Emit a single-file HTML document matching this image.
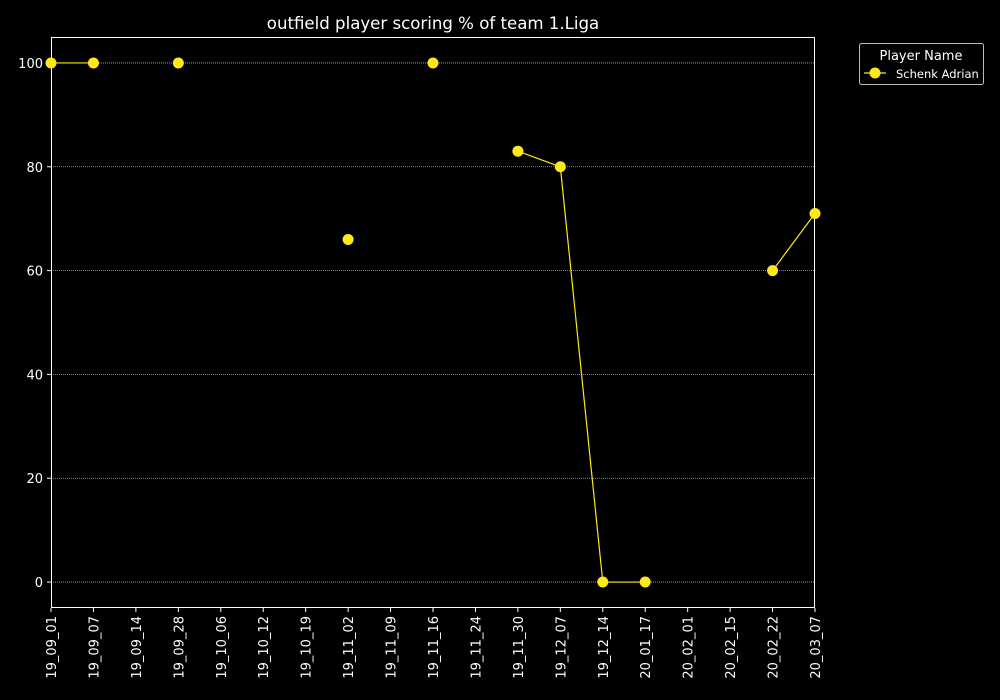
<!DOCTYPE html>
<html><head><meta charset="utf-8"><style>
html,body{margin:0;background:#000;width:1000px;height:700px;overflow:hidden;}
svg{display:block;}
svg text{font-family:"DejaVu Sans","Liberation Sans",sans-serif;fill:#fff;}
</style></head><body>
<svg id="chart" width="1000" height="700">
<rect width="1000" height="700" fill="#000"/>
<text x="433" y="29" font-size="16.6" text-anchor="middle">outfield player scoring % of team 1.Liga</text>
<g id="grid"></g><g id="axes"></g><g id="series"></g>
<g>
<rect x="859.5" y="43.5" width="124" height="41" rx="2" fill="#000" stroke="#bbb"/>
<text x="921" y="60" font-size="13" text-anchor="middle">Player Name</text>
<line x1="864" y1="73" x2="886" y2="73" stroke="#ffe81a" stroke-width="1.2"/>
<circle cx="875" cy="73" r="5.5" fill="#ffe81a"/>
<text x="896" y="78" font-size="11.5">Schenk Adrian</text>
</g>
</svg>
<script>
const categories=["19_09_01","19_09_07","19_09_14","19_09_28","19_10_06","19_10_12","19_10_19","19_11_02","19_11_09","19_11_16","19_11_24","19_11_30","19_12_07","19_12_14","20_01_17","20_02_01","20_02_15","20_02_22","20_03_07"];
const values=[100,100,null,100,null,null,null,66,null,100,null,83,80,0,0,null,null,60,71];
const yTicks=[0,20,40,60,80,100];
const L=51,R=815,T=37,B=608,yMin=-5,yMax=105;
const NS="http://www.w3.org/2000/svg";
const x=i=>L+i*(R-L)/(categories.length-1);
const y=v=>B-(v-yMin)/(yMax-yMin)*(B-T);
function mk(tag,attrs,parent,txt){const e=document.createElementNS(NS,tag);for(const k in attrs)e.setAttribute(k,attrs[k]);if(txt!==undefined)e.textContent=txt;document.getElementById(parent).appendChild(e);return e;}
yTicks.forEach(v=>{
 let g=mk('line',{x1:L,x2:R,y1:y(v),y2:y(v),stroke:'#aaa','stroke-width':0.8,'stroke-dasharray':'1,1'},'grid');
 
 
 let t=mk('line',{x1:L-4,x2:L,y1:y(v),y2:y(v),stroke:'#fff'},'axes');
 
 
 let l=mk('text',{x:L-8,y:y(v)+5,'font-size':13,'text-anchor':'end'},'axes',v);
 
 
});
categories.forEach((c,i)=>{
 let t=mk('line',{x1:x(i),x2:x(i),y1:B,y2:B+4,stroke:'#fff'},'axes');
 
 
 let l=mk('text',{x:0,y:0,'font-size':13,'text-anchor':'end',transform:`translate(${x(i)+5},${B+8}) rotate(-90)`},'axes',c);
 
 
});
let fr=mk('rect',{x:L+0.5,y:T+0.5,width:R-L-1,height:B-T-1,fill:'none',stroke:'#fff'},'axes');


let seg=[];const segs=[];
values.forEach((v,i)=>{if(v===null){if(seg.length)segs.push(seg);seg=[];}else seg.push([x(i),y(v)]);});
if(seg.length)segs.push(seg);
segs.forEach(s=>{if(s.length>1){let p=mk('polyline',{points:s.map(q=>q.join(',')).join(' '),fill:'none',stroke:'#ffe81a','stroke-width':1.2},'series');
 
 }});
values.forEach((v,i)=>{if(v===null)return;
 let c=mk('circle',{cx:x(i),cy:y(v),r:5.5,fill:'#ffe81a'},'series');
 
 
});
</script>
</body></html>
